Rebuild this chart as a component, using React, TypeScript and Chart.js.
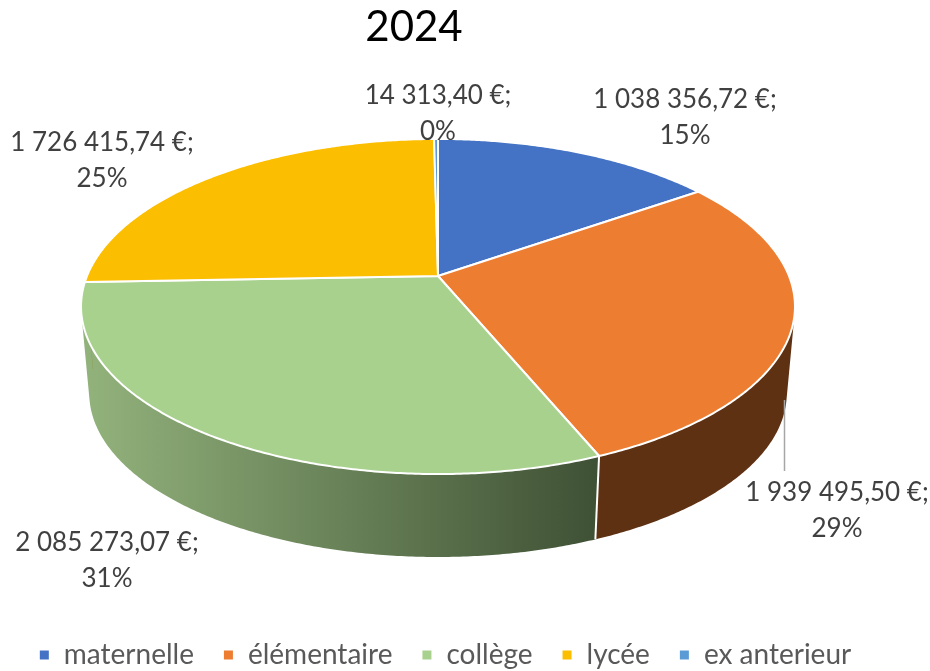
import React, { useEffect, useRef } from "react";
import { Chart, registerables } from "chart.js";

Chart.register(...registerables);

const title = "2024";
const categories = ["maternelle", "élémentaire", "collège", "lycée", "ex anterieur"];
const values = [1038356.72, 1939495.5, 2085273.07, 1726415.74, 14313.4];
const colors = ["#4472C4", "#ED7D31", "#A9D18E", "#FBBE00", "#5B9BD5"];
const wallColors: (string | [string, string])[] = ["#27426F", "#5F3113", ["#93B37C", "#3F5135"], "#8F6C00", "#345A7C"];

// label centres (x, y of the first line)
const labelAnchors = [
  [685, 99.5],
  [837, 492.5],
  [107, 542.5],
  [102, 142.5],
  [438, 95.5],
];
const FONT = "Lato";
const LINE_GAP = 36;

// perspective projection of the pie disc
const APEX_X = 438;
const APEX_Y = 276;
const RADIUS_X = 351;
const RADIUS_Y = 162;
const TILT = 0.182;
const RIM_SCALE = 0.977;
const RIM_Y = 363.5;

function project(theta: number, rim: boolean) {
  const u = Math.sin(theta);
  const v = -Math.cos(theta);
  const w = 1 - TILT * v;
  const s = rim ? RIM_SCALE : 1;
  return {
    x: APEX_X + (s * RADIUS_X * u) / w,
    y: (rim ? RIM_Y : APEX_Y) + (s * RADIUS_Y * v) / w,
  };
}

function formatEuro(v: number) {
  const [a, b] = v.toFixed(2).split(".");
  return a.replace(/\B(?=(\d{3})+$)/g, " ") + "," + b + " €;";
}

const pie3d = {
  id: "pie3d",
  afterLayout(chart: any) {
    chart.titleBlock.left = 0;
    chart.titleBlock.right = 828;
    const lg = chart.legend;
    const w = lg.right - lg.left;
    lg.left = 445 - w / 2;
    lg.right = 445 + w / 2;
    lg.top = 612;
  },
  beforeDatasetsDraw(chart: any) {
    const ctx = chart.ctx;
    const arcs = chart.getDatasetMeta(0).data;
    const STEP = Math.PI / 360;
    const lo = (70 * Math.PI) / 180;
    const hi = (268 * Math.PI) / 180;
    ctx.save();
    // walls: each one is a single path of same-winding quads, so no seams appear
    arcs.forEach((arc: any, i: number) => {
      const a0 = Math.max(arc.startAngle + Math.PI / 2, lo);
      const a1 = Math.min(arc.endAngle + Math.PI / 2, hi);
      if (a1 <= a0) return;
      const wc = wallColors[i];
      let fill: any = wc;
      if (Array.isArray(wc)) {
        const g = ctx.createLinearGradient(81, 0, 597, 0);
        g.addColorStop(0, wc[0]);
        g.addColorStop(1, wc[1]);
        fill = g;
      }
      const n = Math.max(1, Math.ceil((a1 - a0) / STEP));
      ctx.beginPath();
      for (let k = 0; k < n; k++) {
        const t0 = a0 + ((a1 - a0) * k) / n;
        const t1 = a0 + ((a1 - a0) * (k + 1)) / n;
        const p = [project(t0, false), project(t1, false), project(t1, true), project(t0, true)];
        let area = 0;
        p.forEach((q, j) => {
          const r = p[(j + 1) % 4];
          area += q.x * r.y - r.x * q.y;
        });
        if (area < 0) p.reverse();
        p.forEach((q, j) => (j ? ctx.lineTo(q.x, q.y) : ctx.moveTo(q.x, q.y)));
        ctx.closePath();
      }
      ctx.fillStyle = fill;
      ctx.fill("nonzero");
    });
    // wall separators
    ctx.strokeStyle = "#FFFFFF";
    ctx.lineWidth = 2;
    arcs.forEach((arc: any) => {
      const t = arc.endAngle + Math.PI / 2;
      if (t > (100 * Math.PI) / 180 && t < (255 * Math.PI) / 180) {
        const a = project(t, false);
        const b = project(t, true);
        ctx.beginPath();
        ctx.moveTo(a.x, a.y);
        ctx.lineTo(b.x, b.y);
        ctx.stroke();
      }
    });
    // top faces
    arcs.forEach((arc: any, i: number) => {
      const a0 = arc.startAngle + Math.PI / 2;
      const a1 = arc.endAngle + Math.PI / 2;
      const n = Math.max(2, Math.ceil((a1 - a0) / STEP));
      ctx.beginPath();
      ctx.moveTo(APEX_X, APEX_Y);
      for (let k = 0; k <= n; k++) {
        const q = project(a0 + ((a1 - a0) * k) / n, false);
        ctx.lineTo(q.x, q.y);
      }
      ctx.closePath();
      ctx.fillStyle = colors[i];
      ctx.fill();
      ctx.lineJoin = "round";
      ctx.strokeStyle = "#FFFFFF";
      ctx.lineWidth = 2;
      ctx.stroke();
    });
    // leader line
    ctx.strokeStyle = "#A6A6A6";
    ctx.lineWidth = 1.5;
    ctx.beginPath();
    ctx.moveTo(784.5, 400);
    ctx.lineTo(784.5, 471);
    ctx.stroke();
    ctx.restore();
    return false;
  },
  afterDraw(chart: any) {
    const ctx = chart.ctx;
    const total = values.reduce((a, b) => a + b, 0);
    ctx.save();
    ctx.font = `26px ${FONT}`;
    ctx.fillStyle = "#404040";
    ctx.textAlign = "center";
    ctx.textBaseline = "middle";
    values.forEach((v, i) => {
      const [x, y] = labelAnchors[i];
      ctx.fillText(formatEuro(v), x, y);
      ctx.fillText(Math.round((v / total) * 100) + "%", x, y + LINE_GAP);
    });
    ctx.restore();
  },
};

export default function App() {
  const ref = useRef<HTMLCanvasElement>(null);
  useEffect(() => {
    document.body.style.margin = "0";
    const chart = new Chart(ref.current!, {
      type: "pie",
      data: {
        labels: categories,
        datasets: [{ data: values, backgroundColor: colors, borderColor: "#FFFFFF", borderWidth: 2 }],
      },
      options: {
        responsive: false,
        animation: false,
        plugins: {
          title: {
            display: true,
            text: title,
            color: "#000000",
            font: { family: FONT, size: 42, weight: "normal" },
            padding: { top: 2, bottom: 4 },
          },
          legend: {
            position: "bottom",
            labels: {
              color: "#595959",
              font: { family: FONT, size: 28 },
              boxWidth: 11,
              boxHeight: 11,
              padding: 29,
            },
          },
          tooltip: { enabled: false },
        },
      },
      plugins: [pie3d],
    } as any);
    return () => chart.destroy();
  }, []);
  return <canvas ref={ref} width={930} height={671} style={{ display: "block" }} />;
}
